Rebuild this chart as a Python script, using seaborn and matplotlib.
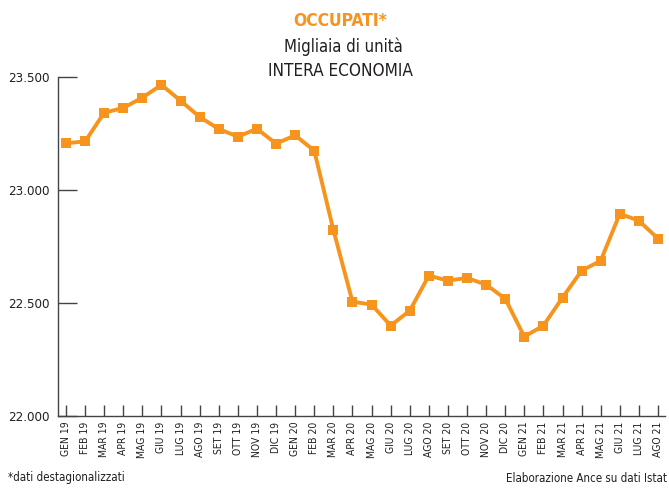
import matplotlib
matplotlib.use("Agg")
import matplotlib.pyplot as plt
import seaborn as sns
import pandas as pd

months = ["GEN 19", "FEB 19", "MAR 19", "APR 19", "MAG 19", "GIU 19", "LUG 19", "AGO 19",
          "SET 19", "OTT 19", "NOV 19", "DIC 19", "GEN 20", "FEB 20", "MAR 20", "APR 20",
          "MAG 20", "GIU 20", "LUG 20", "AGO 20", "SET 20", "OTT 20", "NOV 20", "DIC 20",
          "GEN 21", "FEB 21", "MAR 21", "APR 21", "MAG 21", "GIU 21", "LUG 21", "AGO 21"]
occupati = [23207, 23215, 23342, 23363, 23409, 23465, 23395, 23323,
            23270, 23236, 23271, 23205, 23242, 23174, 22824, 22506,
            22493, 22400, 22466, 22621, 22599, 22611, 22581, 22519,
            22351, 22400, 22524, 22643, 22687, 22895, 22864, 22785]
y_ticks = [22000, 22500, 23000, 23500]
y_tick_labels = ["22.000", "22.500", "23.000", "23.500"]

sns.set_theme(style="white")
plt.rcParams['font.family'] = ['DejaVu Sans']
plt.rcParams['font.stretch'] = 'condensed'

ORANGE = "#F7941D"
DARK = "#231F20"
COND = dict(fontstretch="condensed")

df = pd.DataFrame({"x": range(len(months)), "v": occupati})

fig = plt.figure(figsize=(6.69, 4.88), dpi=100)
ax = fig.add_axes([58/669, 1-416/488, (665-58)/669, (416-77)/488])

sns.lineplot(data=df, x="x", y="v", ax=ax, color=ORANGE, linewidth=2.8,
             marker="s", markersize=7, markeredgewidth=0, markerfacecolor=ORANGE)

x0 = 66; x1 = 658
ppu = (x1 - x0) / 31
ax.set_xlim(-(x0 - 58) / ppu, 31 + (665 - x1) / ppu)
ax.set_ylim(22000, 23500)

ax.set_xticks(range(len(months)))
ax.set_xticklabels(months, rotation=90, fontsize=7.5, color=DARK, **COND)
ax.set_yticks(y_ticks)
ax.set_yticklabels(y_tick_labels, fontsize=9.5, color=DARK, **COND)
ax.set_xlabel("")
ax.set_ylabel("")

for s in ["top", "right"]:
    ax.spines[s].set_visible(False)
for s in ["left", "bottom"]:
    ax.spines[s].set_color("#444444")
    ax.spines[s].set_linewidth(1)

ax.tick_params(axis="x", bottom=True, direction="in", length=8, width=1,
               color="#444444", pad=4)
ax.tick_params(axis="y", left=True, direction="in", length=14, width=1,
               color="#444444", pad=6)
ax.grid(False)

fig.text(340/669, 1-21/488, "OCCUPATI*", ha="center", va="center", fontsize=12.5,
         fontweight="bold", color=ORANGE, **COND)
fig.text(343/669, 1-47/488, "Migliaia di unità", ha="center", va="center", fontsize=12,
         color=DARK, **COND)
fig.text(340/669, 1-71/488, "INTERA ECONOMIA", ha="center", va="center", fontsize=12.3,
         color=DARK, **COND)

fig.text(8/669, 1-478/488, "*dati destagionalizzati", ha="left", va="center", fontsize=8.3,
         color=DARK, **COND)
fig.text(667/669, 1-478/488, "Elaborazione Ance su dati Istat", ha="right", va="center",
         fontsize=8.3, color=DARK, **COND)

fig.savefig("out.png", dpi=100)
